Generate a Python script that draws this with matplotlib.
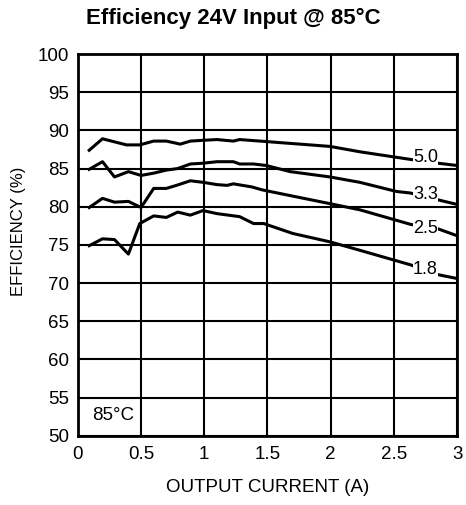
import matplotlib
matplotlib.use("Agg")
import matplotlib.pyplot as plt

plt.rcParams['font.family'] = ['Liberation Sans', 'DejaVu Sans']

# output current (A) and efficiency (%)
x_50 = [0.09, 0.195, 0.29, 0.385, 0.49, 0.6, 0.70, 0.81, 0.89, 0.99, 1.10, 1.23, 1.28, 1.44, 1.995, 2.23, 2.63, 2.85, 3.0]
y_50 = [87.4, 88.9, 88.5, 88.1, 88.1, 88.6, 88.6, 88.2, 88.6, 88.7, 88.8, 88.6, 88.8, 88.6, 87.9, 87.2, 86.2, 85.7, 85.4]

x_33 = [0.09, 0.195, 0.29, 0.40, 0.50, 0.60, 0.70, 0.79, 0.89, 0.99, 1.10, 1.23, 1.28, 1.39, 1.49, 1.68, 1.995, 2.23, 2.52, 2.63, 2.85, 3.0]
y_33 = [84.9, 85.9, 83.9, 84.6, 84.1, 84.4, 84.8, 85.0, 85.6, 85.7, 85.9, 85.9, 85.6, 85.6, 85.4, 84.6, 83.9, 83.2, 82.0, 81.8, 80.9, 80.3]

x_25 = [0.09, 0.195, 0.29, 0.40, 0.50, 0.60, 0.70, 0.78, 0.89, 0.99, 1.10, 1.18, 1.23, 1.375, 1.46, 1.995, 2.23, 2.63, 2.85, 3.0]
y_25 = [79.9, 81.1, 80.6, 80.7, 79.9, 82.4, 82.4, 82.8, 83.4, 83.2, 82.9, 82.8, 83.0, 82.6, 82.2, 80.4, 79.6, 77.7, 77.1, 76.2]

x_18 = [0.09, 0.195, 0.29, 0.40, 0.49, 0.60, 0.70, 0.79, 0.89, 0.99, 1.10, 1.28, 1.39, 1.47, 1.70, 1.995, 2.23, 2.63, 2.85, 3.0]
y_18 = [74.9, 75.8, 75.7, 73.8, 77.8, 78.8, 78.6, 79.3, 78.9, 79.5, 79.1, 78.7, 77.8, 77.8, 76.5, 75.4, 74.3, 72.4, 71.1, 70.6]

series = [(x_50, y_50, "5.0", 86.5),
          (x_33, y_33, "3.3", 81.6),
          (x_25, y_25, "2.5", 77.2),
          (x_18, y_18, "1.8", 71.8)]
label_x = 2.75

fig = plt.figure(figsize=(4.66, 5.05), dpi=100)
ax = fig.add_axes([0.167, 0.137, 0.814, 0.756])

for xs, ys, name, ly in series:
    ax.plot(xs, ys, color='black', lw=2.2, zorder=3)
    ax.text(label_x, ly, name, fontsize=13, ha='center', va='center', zorder=4,
            bbox=dict(facecolor='white', edgecolor='none', pad=0.3))

ax.set_xlim(0, 3)
ax.set_ylim(50, 100)
ax.set_xticks([0, 0.5, 1, 1.5, 2, 2.5, 3])
ax.set_xticklabels(['0', '0.5', '1', '1.5', '2', '2.5', '3'])
ax.set_yticks(range(50, 101, 5))
ax.tick_params(length=0, labelsize=13.5)
ax.tick_params(axis='x', pad=7)
ax.tick_params(axis='y', pad=6)
ax.grid(True, color='black', lw=1.5)
ax.set_axisbelow(True)
for s in ax.spines.values():
    s.set_linewidth(2)

ax.text(0.28, 52.6, "85°C", fontsize=13.5, ha='center', va='center')

fig.text(267.5 / 466, 1 - 488 / 505, "OUTPUT CURRENT (A)", fontsize=13.5, ha='center', va='center')
fig.text(19 / 466, 1 - 231 / 505, "EFFICIENCY (%)", fontsize=12, rotation=90, ha='center', va='center')
fig.text(0.5, 1 - 18 / 505, "Efficiency 24V Input @ 85°C", fontsize=16, fontweight='bold',
         ha='center', va='center')

fig.savefig("out.png", dpi=100)
